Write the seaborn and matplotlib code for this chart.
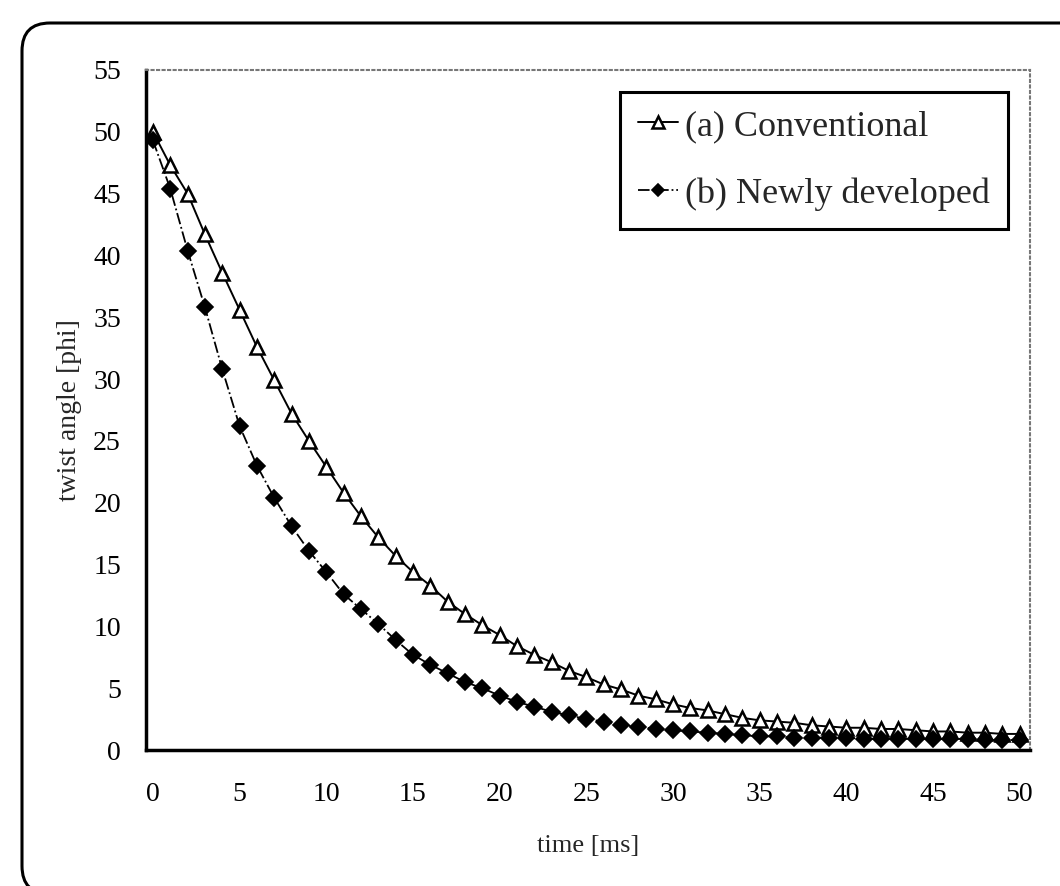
import matplotlib
matplotlib.use("Agg")
import matplotlib.pyplot as plt
import seaborn as sns
import pandas as pd
from matplotlib.patches import FancyBboxPatch
from matplotlib.transforms import IdentityTransform

# ---- data ----
time_ms = list(range(51))
conventional = [50.0, 47.3, 45.0, 41.7, 38.6, 35.6, 32.6, 29.9, 27.2, 25.0,
                22.9, 20.8, 18.9, 17.2, 15.7, 14.4, 13.3, 12.0, 11.0, 10.1,
                9.3, 8.4, 7.7, 7.1, 6.4, 5.9, 5.3, 4.9, 4.4, 4.1,
                3.7, 3.4, 3.2, 2.9, 2.6, 2.4, 2.3, 2.2, 2.0, 1.9,
                1.8, 1.8, 1.7, 1.7, 1.6, 1.5, 1.5, 1.4, 1.4, 1.3, 1.3]
newly_developed = [49.3, 45.4, 40.4, 35.8, 30.8, 26.2, 23.0, 20.4, 18.1, 16.1,
                   14.4, 12.6, 11.4, 10.2, 8.9, 7.7, 6.9, 6.2, 5.5, 5.0,
                   4.4, 3.9, 3.5, 3.1, 2.8, 2.5, 2.3, 2.0, 1.9, 1.7,
                   1.6, 1.5, 1.4, 1.3, 1.2, 1.1, 1.1, 1.0, 1.0, 1.0,
                   1.0, 0.9, 0.9, 0.9, 0.9, 0.9, 0.9, 0.9, 0.8, 0.8, 0.8]
series_labels = ["(a) Conventional", "(b) Newly developed"]
x_ticks = [0, 5, 10, 15, 20, 25, 30, 35, 40, 45, 50]
y_ticks = [0, 5, 10, 15, 20, 25, 30, 35, 40, 45, 50, 55]
x_label = "time [ms]"
y_label = "twist angle [phi]"

sns.set_style("white")
plt.rcParams['font.family'] = ['Liberation Serif', 'DejaVu Serif']

W, H = 1060, 886
fig = plt.figure(figsize=(W / 100, H / 100), dpi=100)
ax = fig.add_axes([146 / W, 1 - 750 / H, (1030 - 146) / W, (750 - 70) / H])

df_a = pd.DataFrame({"t": time_ms, "v": conventional})
df_b = pd.DataFrame({"t": time_ms, "v": newly_developed})

sns.lineplot(data=df_a, x="t", y="v", ax=ax, color="black", marker="^",
             markersize=10, markerfacecolor="white", markeredgecolor="black",
             markeredgewidth=1.8, linewidth=1.4, label=series_labels[0])
sns.lineplot(data=df_b, x="t", y="v", ax=ax, color="black", marker="D",
             markersize=8, markerfacecolor="black", markeredgecolor="black",
             markeredgewidth=1.2, linestyle="-.", linewidth=1.3,
             label=series_labels[1])

ax.set_xlim(-0.4, 50.6)
ax.set_ylim(0, 55)
ax.set_xticks(x_ticks)
ax.set_yticks(y_ticks)
ax.set_xticklabels([str(v) for v in x_ticks])
ax.set_yticklabels([str(v) for v in y_ticks])
ax.tick_params(axis="both", direction="in", length=6, width=1.5,
               labelsize=20, colors="black")
ax.tick_params(axis="x", pad=23)
ax.tick_params(axis="y", pad=18)

ax.set_xlabel(x_label, fontsize=19, labelpad=20)
ax.set_ylabel(y_label, fontsize=20, labelpad=8)

for s in ["left", "bottom"]:
    ax.spines[s].set_color("black")
    ax.spines[s].set_linewidth(2.5)
for s in ["top", "right"]:
    ax.spines[s].set_color("#777777")
    ax.spines[s].set_linestyle(":")
    ax.spines[s].set_linewidth(1.5)

leg = ax.legend(loc="upper right", fontsize=26, frameon=True, fancybox=False,
                edgecolor="black", framealpha=1, borderaxespad=0.6,
                handlelength=1.1, labelspacing=0.95, borderpad=0.5,
                handletextpad=0.2, markerscale=0.8)
leg.get_frame().set_linewidth(2.2)

frame = FancyBboxPatch((22, -8), 1200, H - 23 + 8,
                       boxstyle="round,pad=0,rounding_size=28",
                       transform=IdentityTransform(), facecolor="none",
                       edgecolor="black", linewidth=2.2)
fig.add_artist(frame)

fig.savefig("out.png", dpi=100)
